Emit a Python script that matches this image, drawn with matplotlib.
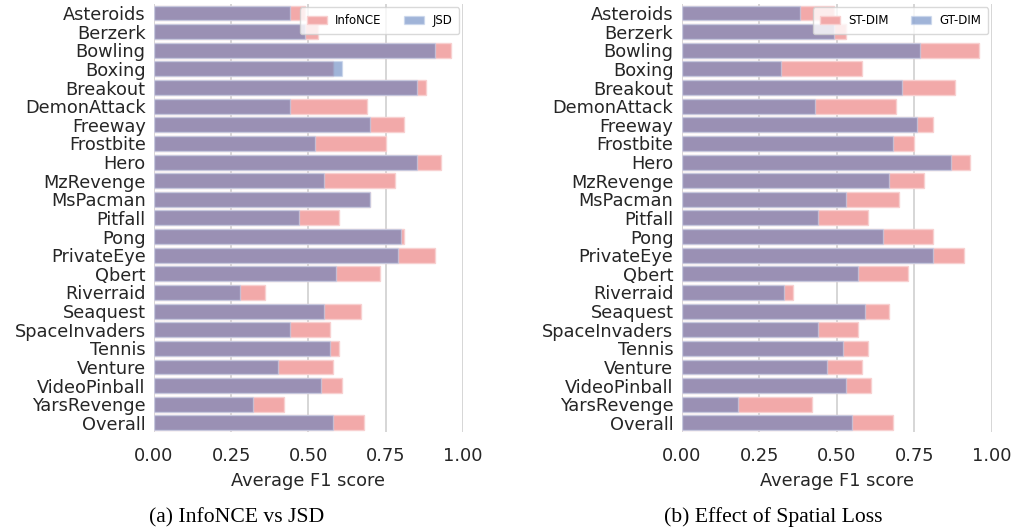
import matplotlib
matplotlib.use('Agg')
import matplotlib.pyplot as plt
import numpy as np

matplotlib.rcParams['font.family'] = 'DejaVu Sans'
matplotlib.rcParams['font.size'] = 12.8

games = ['Asteroids', 'Berzerk', 'Bowling', 'Boxing', 'Breakout', 'DemonAttack',
         'Freeway', 'Frostbite', 'Hero', 'MzRevenge', 'MsPacman', 'Pitfall',
         'Pong', 'PrivateEye', 'Qbert', 'Riverraid', 'Seaquest', 'SpaceInvaders',
         'Tennis', 'Venture', 'VideoPinball', 'YarsRevenge', 'Overall']

# (a) InfoNCE vs JSD
infonce = [0.49, 0.53, 0.96, 0.58, 0.88, 0.69, 0.81, 0.75, 0.93, 0.78, 0.70, 0.60,
           0.81, 0.91, 0.73, 0.36, 0.67, 0.57, 0.60, 0.58, 0.61, 0.42, 0.68]
jsd = [0.44, 0.49, 0.91, 0.61, 0.85, 0.44, 0.70, 0.52, 0.85, 0.55, 0.70, 0.47,
       0.80, 0.79, 0.59, 0.28, 0.55, 0.44, 0.57, 0.40, 0.54, 0.32, 0.58]

# (b) Effect of spatial loss
st_dim = [0.49, 0.53, 0.96, 0.58, 0.88, 0.69, 0.81, 0.75, 0.93, 0.78, 0.70, 0.60,
          0.81, 0.91, 0.73, 0.36, 0.67, 0.57, 0.60, 0.58, 0.61, 0.42, 0.68]
gt_dim = [0.38, 0.49, 0.77, 0.32, 0.71, 0.43, 0.76, 0.68, 0.87, 0.67, 0.53, 0.44,
          0.65, 0.81, 0.57, 0.33, 0.59, 0.44, 0.52, 0.47, 0.53, 0.18, 0.55]

PINK = '#f2a9a9'
BLUE = '#5b7ebc'


def draw_panel(ax, first, second, labels):
    y = np.arange(len(games))
    ax.set_axisbelow(True)
    ax.grid(axis='x', color='#d0d0d0', lw=1.2)
    ax.grid(axis='y', visible=False)
    ax.barh(y, first, height=0.8, color=PINK, edgecolor='#f8d0d0', lw=1,
            label=labels[0])
    ax.barh(y, second, height=0.8, color=BLUE, alpha=0.58, edgecolor='#c8d4ec',
            lw=1, label=labels[1])
    ax.set_yticks(y)
    ax.set_yticklabels(games)
    ax.set_ylim(len(games) - 0.5, -0.5)
    ax.set_xlim(0, 1.0)
    ax.set_xticks([0, 0.25, 0.5, 0.75, 1.0])
    ax.set_xticklabels(['0.00', '0.25', '0.50', '0.75', '1.00'])
    ax.tick_params(axis='y', length=0, colors='#262626', pad=6)
    ax.tick_params(axis='x', length=0, colors='#262626', pad=11)
    ax.set_xlabel('Average F1 score', color='#262626', labelpad=5)
    for s in ax.spines.values():
        s.set_visible(False)
    ax.legend(loc='upper right', ncol=2, fontsize=8.5, frameon=True,
              edgecolor='#d0d0d0', borderaxespad=0.3, borderpad=0.6,
              handlelength=1.7, handletextpad=0.7, columnspacing=1.9)


fig = plt.figure(figsize=(10.13, 5.29), dpi=100)
ax1 = fig.add_axes([0.152, 0.183, 0.305, 0.81])
ax2 = fig.add_axes([0.673, 0.183, 0.306, 0.81])

draw_panel(ax1, infonce, jsd, ['InfoNCE', 'JSD'])
draw_panel(ax2, st_dim, gt_dim, ['ST-DIM', 'GT-DIM'])

fig.text(0.234, 0.022, '(a) InfoNCE vs JSD', ha='center', va='center',
         family='Liberation Serif', fontsize=15.6)
fig.text(0.763, 0.022, '(b) Effect of Spatial Loss', ha='center', va='center',
         family='Liberation Serif', fontsize=15.6)

fig.savefig('out.png', dpi=100)
